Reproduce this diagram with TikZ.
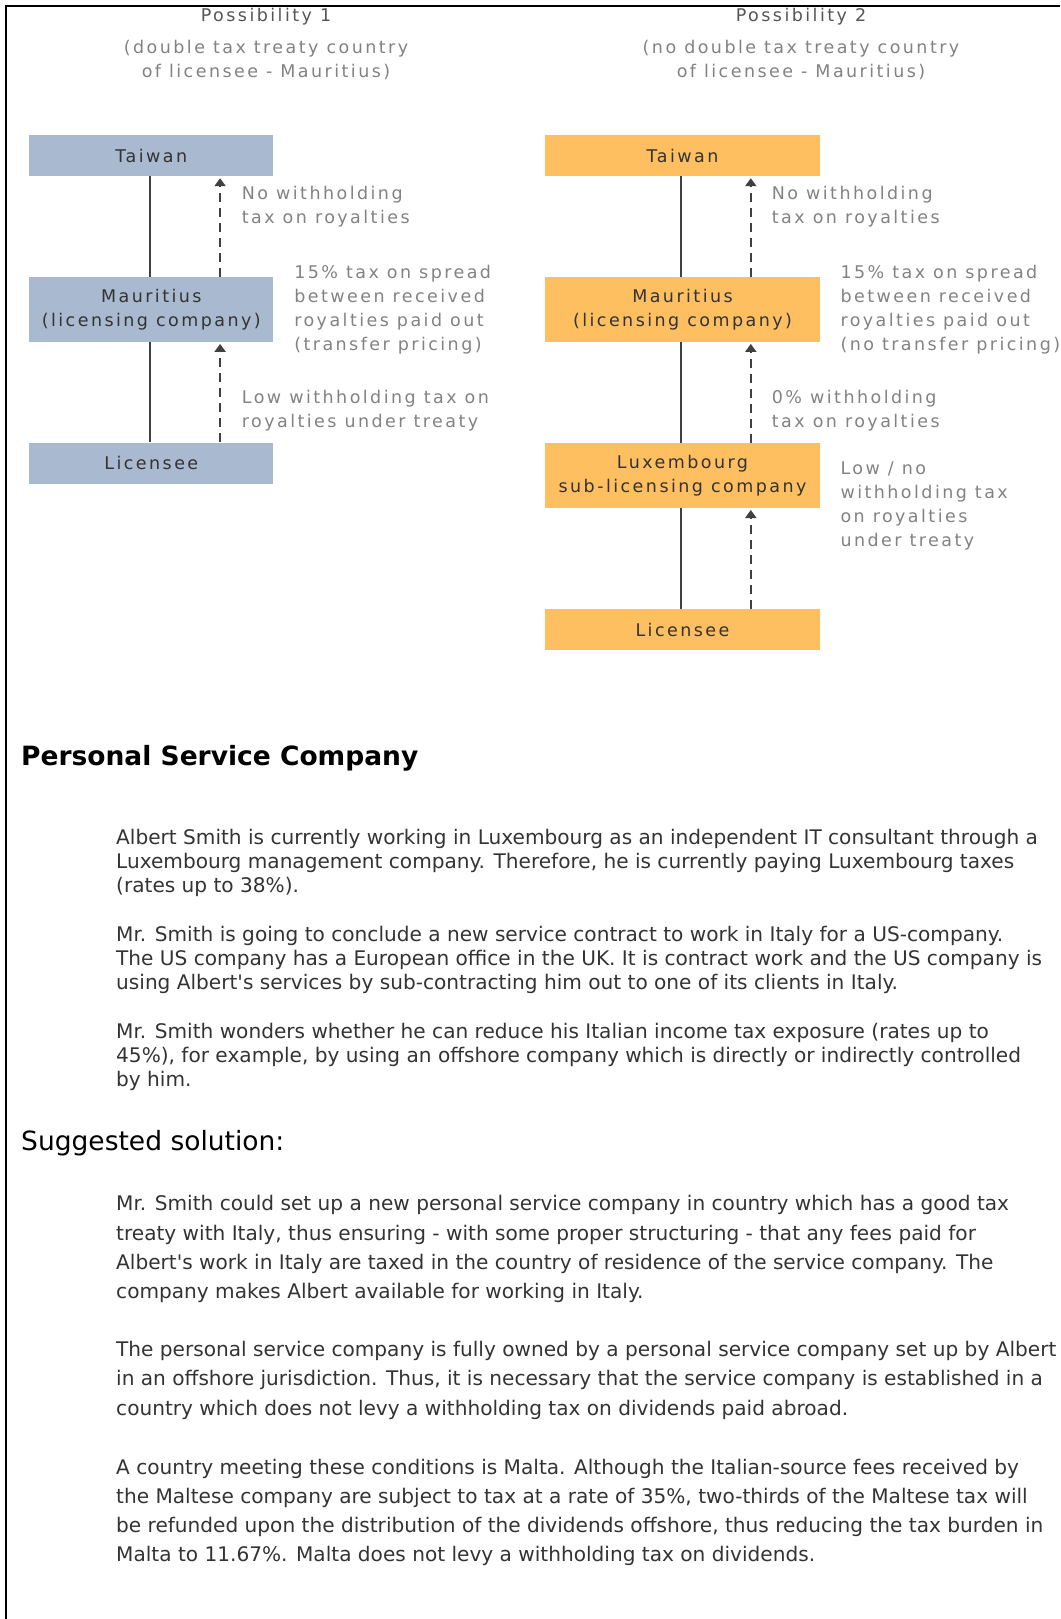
\documentclass[tikz,border=0pt]{standalone}
\usepackage{fontspec}
\setmainfont{DejaVu Sans}
\newfontfamily\pixfont[LetterSpace=14]{DejaVu Sans}
\usetikzlibrary{arrows.meta,positioning}

\definecolor{boxblue}{RGB}{168,185,208}
\definecolor{boxorange}{RGB}{253,191,96}
\definecolor{labelgray}{RGB}{130,130,130}
\definecolor{titlegray}{RGB}{85,85,85}
\definecolor{textdark}{RGB}{51,51,51}
\definecolor{linedark}{RGB}{64,64,64}

\begin{document}
\begin{tikzpicture}[x=1pt,y=-1pt,
  box/.style={inner sep=0pt, align=center, text=textdark,
    font=\pixfont\fontsize{17.5}{24}\selectfont},
  lbox/.style={box, fill=boxblue, minimum width=244pt},
  rbox/.style={box, fill=boxorange, minimum width=274.5pt},
  short/.style={minimum height=41pt},
  tall/.style={minimum height=65pt},
  lbl/.style={inner sep=0pt, anchor=west, align=left, text=labelgray,
    font=\pixfont\fontsize{17.5}{24}\selectfont},
  ttl/.style={inner sep=0pt, align=center, text=titlegray,
    font=\pixfont\fontsize{17.5}{24}\selectfont},
  subttl/.style={ttl, text=labelgray},
  link/.style={draw=linedark, line width=2pt},
  flow/.style={draw=linedark, line width=2pt, dash pattern=on 9pt off 6pt,
    -{Triangle[width=11pt,length=8pt]}},
  head/.style={inner sep=0pt, anchor=west, text=black},
  para/.style={inner sep=0pt, anchor=base west, align=left, text=textdark}]
\useasboundingbox (0,0) rectangle (1060,1619);
\draw[line width=2pt] (6,1619) -- (6,6) -- (1060,6);

% possibility 1
\node[ttl] (ttlA) at (266,17) {Possibility 1};
\node[subttl] (subA) at (266,60) {(double tax treaty country\\of licensee - Mauritius)};
\node[lbox,short] (taiA) at (151.3,155.5) {Taiwan};
\node[lbox,tall] (mauA) at (151.3,309.2) {Mauritius\\(licensing company)};
\node[lbox,short] (licA) at (151.3,463) {Licensee};
\draw[link] ([xshift=-1pt]taiA.south) -- ([xshift=-1pt]mauA.north);
\draw[link] ([xshift=-1pt]mauA.south) -- ([xshift=-1pt]licA.north);
\draw[flow] ([xshift=68.8pt]mauA.north) -- ([xshift=68.8pt,yshift=-2pt]taiA.south);
\draw[flow] ([xshift=68.8pt]licA.north) -- ([xshift=68.8pt,yshift=-2pt]mauA.south);
\node[lbl] (noA) at (241.7,206.3) {No withholding\\tax on royalties};
\node[lbl] (sprA) at (294.1,310) {15\% tax on spread\\between received\\royalties paid out\\(transfer pricing)};
\node[lbl] (lowA) at (241.7,410.3) {Low withholding tax on\\royalties under treaty};

% possibility 2
\node[ttl] (ttlB) at (801,17) {Possibility 2};
\node[subttl] (subB) at (801,60) {(no double tax treaty country\\of licensee - Mauritius)};
\node[rbox,short] (taiB) at (682.5,155.5) {Taiwan};
\node[rbox,tall] (mauB) at (682.5,309.2) {Mauritius\\(licensing company)};
\node[rbox,tall] (luxB) at (682.5,475.3) {Luxembourg\\sub-licensing company};
\node[rbox,short] (licB) at (682.5,629.5) {Licensee};
\draw[link] ([xshift=-2pt]taiB.south) -- ([xshift=-2pt]mauB.north);
\draw[link] ([xshift=-2pt]mauB.south) -- ([xshift=-2pt]luxB.north);
\draw[link] ([xshift=-2pt]luxB.south) -- ([xshift=-2pt]licB.north);
\draw[flow] ([xshift=68.3pt]mauB.north) -- ([xshift=68.3pt,yshift=-2pt]taiB.south);
\draw[flow] ([xshift=68.3pt]luxB.north) -- ([xshift=68.3pt,yshift=-2pt]mauB.south);
\draw[flow] ([xshift=68.3pt]licB.north) -- ([xshift=68.3pt,yshift=-2pt]luxB.south);
\node[lbl] (noB) at (771.7,206.3) {No withholding\\tax on royalties};
\node[lbl] (sprB) at (840.3,310) {15\% tax on spread\\between received\\royalties paid out\\(no transfer pricing)};
\node[lbl] (zeroB) at (771.7,410.3) {0\% withholding\\tax on royalties};
\node[lbl] (lowB) at (840.3,506) {Low / no\\withholding tax\\on royalties\\under treaty};

% text below (anchored at the baseline of the last line)
\node[head, font=\bfseries\fontsize{26.5}{30}\selectfont] (psc) at (21,758.5) {Personal Service Company};
\node[para, font=\fontsize{20.1}{24.3}\selectfont] (parA) at (116,892.9)
  {Albert Smith is currently working in Luxembourg as an independent IT consultant through a\\
   Luxembourg management company. Therefore, he is currently paying Luxembourg taxes\\
   (rates up to 38\%).};
\node[para, font=\fontsize{20.1}{24.3}\selectfont] (parB) at (116,989.9)
  {Mr. Smith is going to conclude a new service contract to work in Italy for a US-company.\\
   The US company has a European office in the UK. It is contract work and the US company is\\
   using Albert\textquotesingle s services by sub-contracting him out to one of its clients in Italy.};
\node[para, font=\fontsize{20.1}{24.3}\selectfont] (parC) at (116,1086.9)
  {Mr. Smith wonders whether he can reduce his Italian income tax exposure (rates up to\\
   45\%), for example, by using an offshore company which is directly or indirectly controlled\\
   by him.};
\node[head, font=\fontsize{26.5}{30}\selectfont] (sugg) at (21,1143.5) {Suggested solution:};
\node[para, font=\fontsize{20.1}{29.2}\selectfont] (parD) at (116,1298.5)
  {Mr. Smith could set up a new personal service company in country which has a good tax\\
   treaty with Italy, thus ensuring - with some proper structuring - that any fees paid for\\
   Albert\textquotesingle s work in Italy are taxed in the country of residence of the service company. The\\
   company makes Albert available for working in Italy.};
\node[para, font=\fontsize{20.1}{29.2}\selectfont] (parE) at (116,1415.1)
  {The personal service company is fully owned by a personal service company set up by Albert\\
   in an offshore jurisdiction. Thus, it is necessary that the service company is established in a\\
   country which does not levy a withholding tax on dividends paid abroad.};
\node[para, font=\fontsize{20.1}{29.2}\selectfont] (parF) at (116,1561.6)
  {A country meeting these conditions is Malta. Although the Italian-source fees received by\\
   the Maltese company are subject to tax at a rate of 35\%, two-thirds of the Maltese tax will\\
   be refunded upon the distribution of the dividends offshore, thus reducing the tax burden in\\
   Malta to 11.67\%. Malta does not levy a withholding tax on dividends.};
\end{tikzpicture}
\end{document}
